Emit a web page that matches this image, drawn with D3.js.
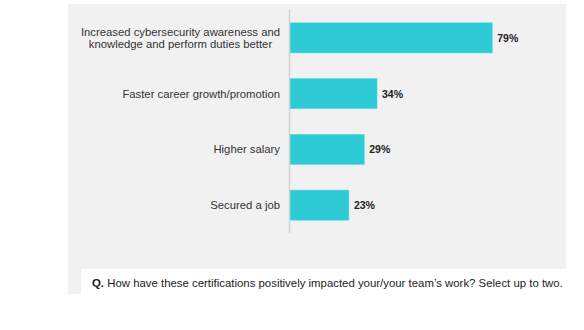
<!DOCTYPE html>
<html>
<head>
<meta charset="utf-8">
<script src="https://cdn.jsdelivr.net/npm/d3@7"></script>
<style>
  html, body { margin: 0; padding: 0; background: #ffffff; }
  svg { display: block; }
  text { font-family: "Liberation Sans", Arial, Helvetica, sans-serif; }
</style>
</head>
<body>
<svg id="chart" width="584" height="330"></svg>
<script>
const categories = [
  ["Increased cybersecurity awareness and", "knowledge and perform duties better"],
  ["Faster career growth/promotion"],
  ["Higher salary"],
  ["Secured a job"]
];
const values = [79, 34, 29, 23];
const valueLabels = ["79%", "34%", "29%", "23%"];
const questionPrefix = "Q.";
const questionText = " How have these certifications positively impacted your/your team\u2019s work? Select up to two.";

const svg = d3.select("#chart");

// panel background
svg.append("rect").attr("x", 68).attr("y", 4).attr("width", 498).attr("height", 290).attr("fill", "#f1f1f1");
// caption box
svg.append("rect").attr("x", 81).attr("y", 269).attr("width", 503).attr("height", 25).attr("fill", "#ffffff");

const idx = d3.range(values.length);
const x = d3.scaleLinear().domain([0, 100]).range([290, 546]);
const y = d3.scaleBand().domain(idx).range([10, 233]).paddingInner(0.46).paddingOuter(0.23);

// bars
svg.append("g").selectAll("rect").data(idx).join("rect")
  .attr("x", x(0))
  .attr("y", i => y(i))
  .attr("width", i => x(values[i]) - x(0))
  .attr("height", y.bandwidth())
  .attr("fill", "#2ccbd5")
  .attr("stroke", "#5fd8df")
  .attr("stroke-width", 0.6);

// axis line
svg.append("line").attr("x1", 289.5).attr("x2", 289.5).attr("y1", 10).attr("y2", 233)
  .attr("stroke", "#d2d2d2").attr("stroke-width", 1.5);

// category labels (multi-line blocks right-aligned, lines centred within block)
const labelRight = 280;
const lab = svg.append("g").selectAll("text").data(idx).join("text")
  .attr("font-size", 11.3)
  .attr("fill", "#333333");
lab.each(function(i) {
  const lines = categories[i];
  const c = y(i) + y.bandwidth() / 2;
  const lh = 12.3;
  const t = d3.select(this);
  const spans = lines.map((ln, k) => t.append("tspan")
      .attr("y", c + (k - (lines.length - 1) / 2) * lh + 4)
      .text(ln));
  const maxW = d3.max(spans, s => s.node().getComputedTextLength());
  spans.forEach(s => s.attr("x", labelRight - maxW / 2).attr("text-anchor", "middle"));
});

// value labels
svg.append("g").selectAll("text").data(idx).join("text")
  .attr("x", i => x(values[i]) + 5)
  .attr("y", i => y(i) + y.bandwidth() / 2 + 4)
  .attr("font-size", 10.5)
  .attr("font-weight", "bold")
  .attr("fill", "#222222")
  .text(i => valueLabels[i]);

// question
const q = svg.append("text").attr("x", 92).attr("y", 286.5).attr("font-size", 11.4).attr("fill", "#222222");
q.append("tspan").attr("font-weight", "bold").text(questionPrefix);
q.append("tspan").text(questionText);
</script>
</body>
</html>
